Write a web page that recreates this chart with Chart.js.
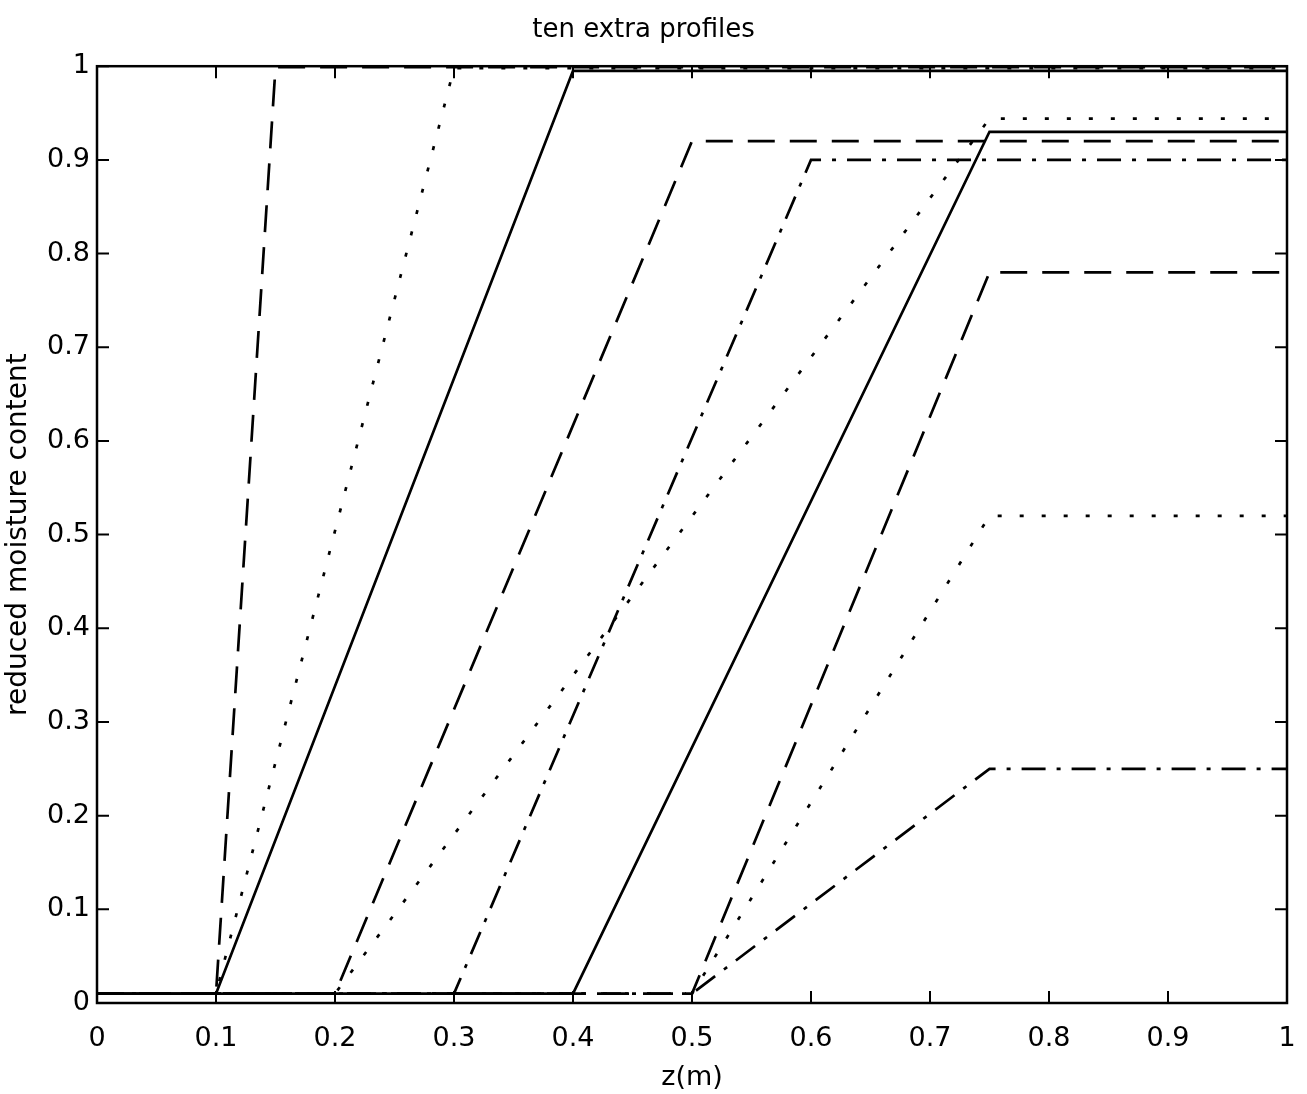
<!DOCTYPE html>
<html>
<head>
<meta charset="utf-8">
<script src="https://cdn.jsdelivr.net/npm/chart.js@4.4.1/dist/chart.umd.min.js"></script>
<style>
html,body{margin:0;padding:0;background:#fff;}
canvas{display:block;}
</style>
</head>
<body>
<canvas id="c" width="1307" height="1094"></canvas>
<script>
// ---- data ----
const xTickLabels = ['0','0.1','0.2','0.3','0.4','0.5','0.6','0.7','0.8','0.9','1'];
const yTickLabels = ['0','0.1','0.2','0.3','0.4','0.5','0.6','0.7','0.8','0.9','1'];

const p1x = [0, 0.1, 0.15, 1];   const p1y = [0.01, 0.01, 0.999, 0.999];
const p2x = [0, 0.1, 0.30, 1];   const p2y = [0.01, 0.01, 0.998, 0.998];
const p3x = [0, 0.1, 0.40, 1];   const p3y = [0.01, 0.01, 0.995, 0.995];
const p4x = [0, 0.2, 0.50, 1];   const p4y = [0.01, 0.01, 0.92, 0.92];
const p5x = [0, 0.3, 0.60, 1];   const p5y = [0.01, 0.01, 0.90, 0.90];
const p6x = [0, 0.2, 0.75, 1];   const p6y = [0.01, 0.01, 0.944, 0.944];
const p7x = [0, 0.4, 0.75, 1];   const p7y = [0.01, 0.01, 0.93, 0.93];
const p8x = [0, 0.5, 0.75, 1];   const p8y = [0.01, 0.01, 0.78, 0.78];
const p9x = [0, 0.5, 0.75, 1];   const p9y = [0.01, 0.01, 0.52, 0.52];
const p10x = [0, 0.5, 0.75, 1];  const p10y = [0.01, 0.01, 0.25, 0.25];

const profileXs = [p1x,p2x,p3x,p4x,p5x,p6x,p7x,p8x,p9x,p10x];
const profileYs = [p1y,p2y,p3y,p4y,p5y,p6y,p7y,p8y,p9y,p10y];
const lineKinds = ['dashed','dotted','solid','dashed','dashdot','dotted','solid','dashed','dotted','dashdot'];

// ---- styles ----
const dashOf = {
  solid: [],
  dashed: [27, 15],
  dotted: [4, 18],
  dashdot: [24, 11, 4, 11]
};
const FONT = 'DejaVu Sans';

const datasets = profileXs.map((xs, i) => ({
  label: 'profile ' + (i + 1),
  data: xs.map((x, j) => ({x: x, y: profileYs[i][j]})),
  borderColor: '#000',
  borderWidth: 2.7,
  borderDash: dashOf[lineKinds[i]],
  pointRadius: 0,
  fill: false,
  tension: 0,
  showLine: true
}));

const bgPlugin = {
  id: 'bg',
  beforeDraw(chart) {
    const ctx = chart.ctx;
    ctx.save();
    ctx.fillStyle = '#fff';
    ctx.fillRect(0, 0, chart.width, chart.height);
    ctx.restore();
  }
};

const boxPlugin = {
  id: 'box',
  afterDatasetsDraw(chart) {
    const ctx = chart.ctx;
    const a = chart.chartArea;
    const xs = chart.scales.x, ys = chart.scales.y;
    const TL = 12;
    ctx.save();
    ctx.strokeStyle = '#000';
    ctx.lineWidth = 2.5;
    ctx.setLineDash([]);
    ctx.strokeRect(a.left, a.top, a.right - a.left, a.bottom - a.top);
    ctx.lineWidth = 2;
    ctx.beginPath();
    xs.ticks.forEach(t => {
      const px = xs.getPixelForValue(t.value);
      ctx.moveTo(px, a.bottom); ctx.lineTo(px, a.bottom - TL);
      ctx.moveTo(px, a.top); ctx.lineTo(px, a.top + TL);
    });
    ys.ticks.forEach(t => {
      const py = ys.getPixelForValue(t.value);
      ctx.moveTo(a.left, py); ctx.lineTo(a.left + TL, py);
      ctx.moveTo(a.right, py); ctx.lineTo(a.right - TL, py);
    });
    ctx.stroke();
    ctx.restore();
  }
};

new Chart(document.getElementById('c'), {
  type: 'scatter',
  data: { datasets: datasets },
  plugins: [bgPlugin, boxPlugin],
  options: {
    responsive: false,
    animation: false,
    devicePixelRatio: 1,
    layout: { padding: { left: 0, right: 20, top: 0, bottom: 0 } },
    plugins: {
      legend: { display: false },
      tooltip: { enabled: false },
      title: {
        display: true,
        text: 'ten extra profiles',
        color: '#000',
        font: { family: FONT, size: 26, weight: 'normal' },
        padding: { top: 15, bottom: 20 }
      }
    },
    scales: {
      x: {
        type: 'linear',
        min: 0, max: 1,
        afterFit(s) { s.height = 91; s.paddingRight = 20; s.paddingLeft = 0; },
        grid: { display: false, drawTicks: false },
        border: { display: false },
        ticks: {
          stepSize: 0.1,
          padding: 20,
          color: '#000',
          maxRotation: 0,
          autoSkip: false,
          font: { family: FONT, size: 27 },
          callback: (v, i) => xTickLabels[i]
        },
        title: {
          display: true,
          text: 'z(m)',
          color: '#000',
          font: { family: FONT, size: 27 },
          padding: { top: 0, bottom: 0 }
        }
      },
      y: {
        type: 'linear',
        min: 0, max: 1,
        afterFit(s) { s.width = 97; },
        grid: { display: false, drawTicks: false },
        border: { display: false },
        ticks: {
          stepSize: 0.1,
          padding: 7,
          color: '#000',
          autoSkip: false,
          font: { family: FONT, size: 27 },
          callback: (v, i) => yTickLabels[i]
        },
        title: {
          display: true,
          text: 'reduced moisture content',
          color: '#000',
          font: { family: FONT, size: 28 },
          padding: { top: 2, bottom: 0 }
        }
      }
    }
  }
});
</script>
</body>
</html>
